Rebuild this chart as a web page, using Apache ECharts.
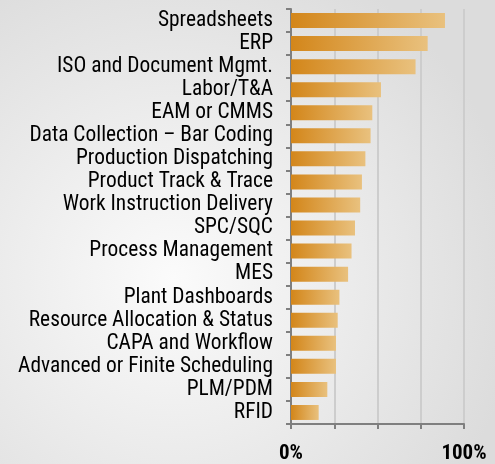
<!DOCTYPE html>
<html>
<head>
<meta charset="utf-8">
<script src="https://cdn.jsdelivr.net/npm/echarts@6/dist/echarts.min.js"></script>
<style>
html,body{margin:0;padding:0;}
#chart{width:495px;height:464px;}
</style>
</head>
<body>
<div id="chart"></div>
<script>
const categories = ["Spreadsheets","ERP","ISO and Document Mgmt.","Labor/T&A","EAM or CMMS","Data Collection \u2013 Bar Coding","Production Dispatching","Product Track & Trace","Work Instruction Delivery","SPC/SQC","Process Management","MES","Plant Dashboards","Resource Allocation & Status","CAPA and Workflow","Advanced or Finite Scheduling","PLM/PDM","RFID"];
const values = [89,79,72,52,47,46,43,41,40,37,35,33,28,27,26,26,21,16];
const xTickLabels = {0:"0%",100:"100%"};

const FONT = '"Roboto Condensed", "Liberation Sans", sans-serif';
const chart = echarts.init(document.getElementById('chart'));
chart.setOption({
  backgroundColor: new echarts.graphic.RadialGradient(0.35, 0.6, 0.75, [
    {offset:0,color:'#fbfbfb'},{offset:1,color:'#dcdcdc'}
  ]),
  animation:false,
  grid:{left:291,right:31,top:9,bottom:40,containLabel:false},
  xAxis:{
    type:'value',min:0,max:100,interval:25,
    axisLine:{show:true,lineStyle:{color:'#7f7f7f',width:2}},
    axisTick:{show:true,length:5,lineStyle:{color:'#7f7f7f',width:2},
      interval:function(i,v){return v===0||v===100;}},
    axisLabel:{margin:19,color:'#000',fontSize:21,fontWeight:'bold',fontFamily:FONT,
      formatter:function(v){return xTickLabels[v]||'';}},
    splitLine:{show:true,lineStyle:{color:'#cdcdcd',width:2}}
  },
  yAxis:{
    type:'category',data:categories,inverse:true,
    axisLine:{show:true,lineStyle:{color:'#7f7f7f',width:2}},
    axisTick:{show:true,length:5,interval:0,lineStyle:{color:'#7f7f7f',width:2}},
    axisLabel:{margin:18,interval:0,color:'#000',fontSize:21.4,fontFamily:FONT}
  },
  series:[{
    type:'bar',data:values,barWidth:'65%',
    itemStyle:{color:new echarts.graphic.LinearGradient(0,0,1,0,[
      {offset:0,color:'#d3861a'},{offset:1,color:'#e9c17e'}
    ])}
  }]
});
</script>
</body>
</html>
